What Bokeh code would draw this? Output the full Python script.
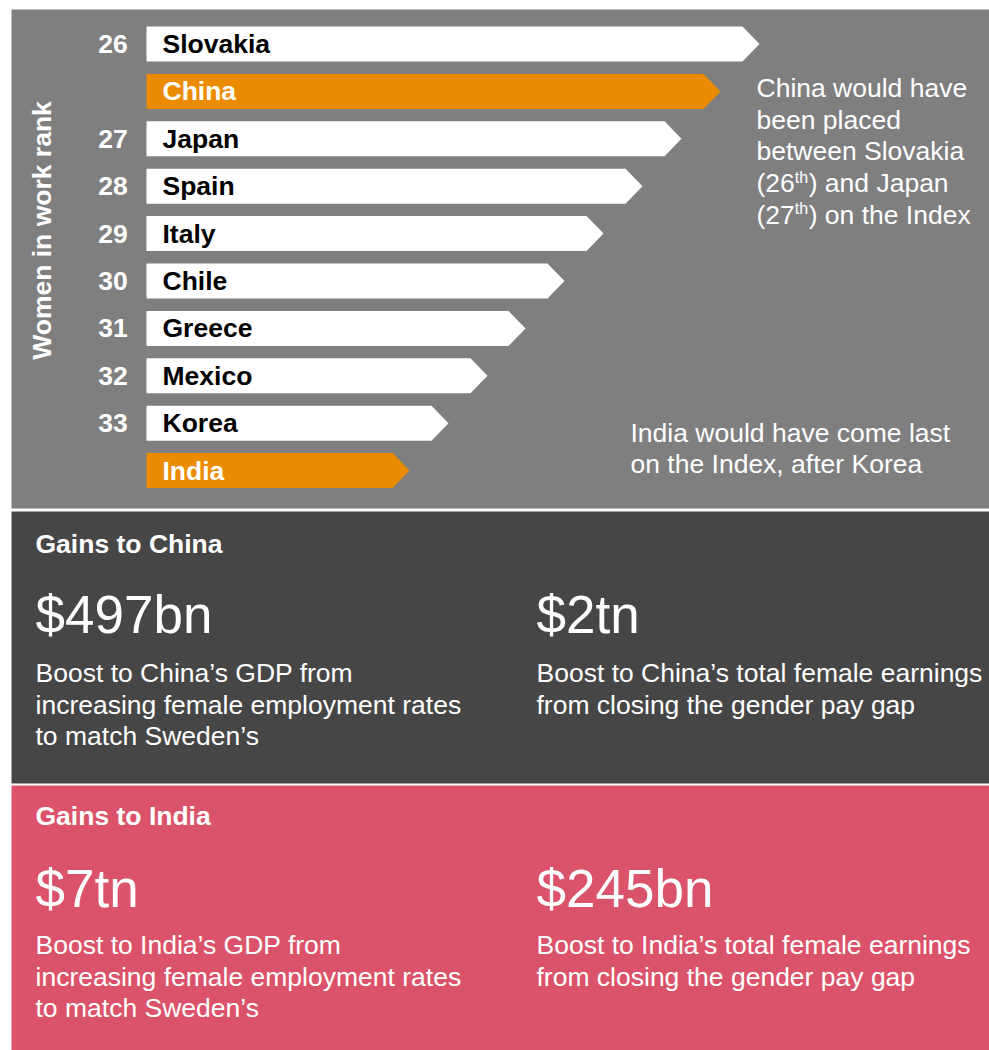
from math import pi
from bokeh.plotting import figure
from bokeh.models import Range1d
from bokeh.core.properties import value
from bokeh.embed import file_html
from bokeh.resources import INLINE

# ---------------- data ----------------
countries = ["Slovakia", "China", "Japan", "Spain", "Italy",
             "Chile", "Greece", "Mexico", "Korea", "India"]
ranks = ["26", "", "27", "28", "29", "30", "31", "32", "33", ""]
bar_length = [613, 574, 535, 496, 457, 418, 379, 341, 302, 263]
highlighted = ["China", "India"]
axis_label = "Women in work rank"

china_note = ["China would have", "been placed", "between Slovakia"]
china_note_sup = [("(26", "th", ") and Japan"), ("(27", "th", ") on the Index")]
india_note = ["India would have come last", "on the Index, after Korea"]

section_titles = ["Gains to China", "Gains to India"]
big_left = ["$497bn", "$7tn"]
big_right = ["$2tn", "$245bn"]
desc_left = [["Boost to China\u2019s GDP from",
              "increasing female employment rates",
              "to match Sweden\u2019s"],
             ["Boost to India\u2019s GDP from",
              "increasing female employment rates",
              "to match Sweden\u2019s"]]
desc_right = [["Boost to China\u2019s total female earnings",
               "from closing the gender pay gap"],
              ["Boost to India\u2019s total female earnings",
               "from closing the gender pay gap"]]

# ---------------- style ----------------
FONT = "Liberation Sans"
GRAY = "#7F7F7F"
DARK = "#464646"
PINK = "#DB536A"
ORANGE = "#EB8C00"
W, H = 989, 1050
FS = 26.5
FSS = f"{FS}px"
BIG = 53
SUP = 16
K = 0.36  # baseline correction (fraction of font size)

# Arial / Liberation Sans advance widths (per 1000 em) for superscript layout
ADV = {"(": 333, ")": 333, "2": 556, "6": 556, "7": 556, "t": 278, "h": 556}


def tw(s, size):
    return sum(ADV[c] for c in s) / 1000.0 * size


def by(b, fs=FS):
    return b - K * fs


p = figure(width=W, height=H, x_range=Range1d(0, W), y_range=Range1d(H, 0),
           output_backend="svg", toolbar_location=None, min_border=0,
           x_axis_type=None, y_axis_type=None,
           background_fill_color="white", border_fill_color="white",
           outline_line_color=None)
p.grid.visible = False

# panels
p.quad(left=[11, 11, 11], right=[W + 5] * 3, top=[9, 511, 785],
       bottom=[508, 783, H + 5], fill_color=[GRAY, DARK, PINK], line_color=None)

# arrow bars
x0, row0, step, half, head = 146, 43.5, 47.4, 17.5, 17
xs, ys, fills, centers = [], [], [], []
for i, (c, L) in enumerate(zip(countries, bar_length)):
    yc = row0 + step * i
    centers.append(yc)
    xe = x0 + L
    xs.append([x0, xe - head, xe, xe - head, x0])
    ys.append([yc - half, yc - half, yc, yc + half, yc + half])
    fills.append(ORANGE if c in highlighted else "white")
p.patches(xs, ys, fill_color=fills, line_color=None)

base = [by(yc + 9.5) for yc in centers]
p.text(x=[112.5] * len(ranks), y=base, text=ranks, text_align="center",
       text_baseline="alphabetic", text_font=value(FONT), text_font_style="bold",
       text_font_size=FSS, text_color="white")
p.text(x=[162] * len(countries), y=base, text=countries, text_align="left",
       text_baseline="alphabetic", text_font=value(FONT), text_font_style="bold",
       text_font_size=FSS,
       text_color=["white" if c in highlighted else "black" for c in countries])

# rotated axis label
p.text(x=[41], y=[230], text=[axis_label], angle=pi / 2, text_align="center",
       text_baseline="middle", text_font=value(FONT), text_font_style="bold",
       text_font_size=FSS, text_color="white")

# China note
nx = 756
note_y = [97, 128.7, 160.4, 192, 223.6]
p.text(x=[nx] * 3, y=[by(v) for v in note_y[:3]], text=china_note,
       text_baseline="alphabetic", text_font=value(FONT), text_font_size=FSS,
       text_color="white")
for (a, sup, b), yb in zip(china_note_sup, note_y[3:]):
    xa = nx
    xs_ = xa + tw(a, FS)
    xb = xs_ + tw(sup, SUP) + 0.5
    p.text(x=[xa], y=[by(yb)], text=[a], text_baseline="alphabetic",
           text_font=value(FONT), text_font_size=FSS, text_color="white")
    p.text(x=[xs_], y=[by(yb - 9.5, SUP)], text=[sup], text_baseline="alphabetic",
           text_font=value(FONT), text_font_size=f"{SUP}px", text_color="white")
    p.text(x=[xb], y=[by(yb)], text=[b], text_baseline="alphabetic",
           text_font=value(FONT), text_font_size=FSS, text_color="white")

# India note
p.text(x=[630, 630], y=[by(442.5), by(473)], text=india_note,
       text_baseline="alphabetic", text_font=value(FONT), text_font_size=FSS,
       text_color="white")

# gains sections
header_y = [553, 825]
big_y = [633, 907]
desc_y0 = [682, 954]
lh = 31.7
for k in range(2):
    p.text(x=[35], y=[by(header_y[k])], text=[section_titles[k]],
           text_baseline="alphabetic", text_font=value(FONT),
           text_font_style="bold", text_font_size=FSS, text_color="white")
    p.text(x=[35, 536], y=[by(big_y[k], BIG)] * 2, text=[big_left[k], big_right[k]],
           text_baseline="alphabetic", text_font=value(FONT),
           text_font_size=f"{BIG}px", text_color="white")
    dl = desc_left[k]
    p.text(x=[35] * len(dl), y=[by(desc_y0[k] + lh * j) for j in range(len(dl))],
           text=dl, text_baseline="alphabetic", text_font=value(FONT),
           text_font_size=FSS, text_color="white")
    dr = desc_right[k]
    p.text(x=[536] * len(dr), y=[by(desc_y0[k] + lh * j) for j in range(len(dr))],
           text=dr, text_baseline="alphabetic", text_font=value(FONT),
           text_font_size=FSS, text_color="white")

open("out.html", "w").write(file_html(p, INLINE))
